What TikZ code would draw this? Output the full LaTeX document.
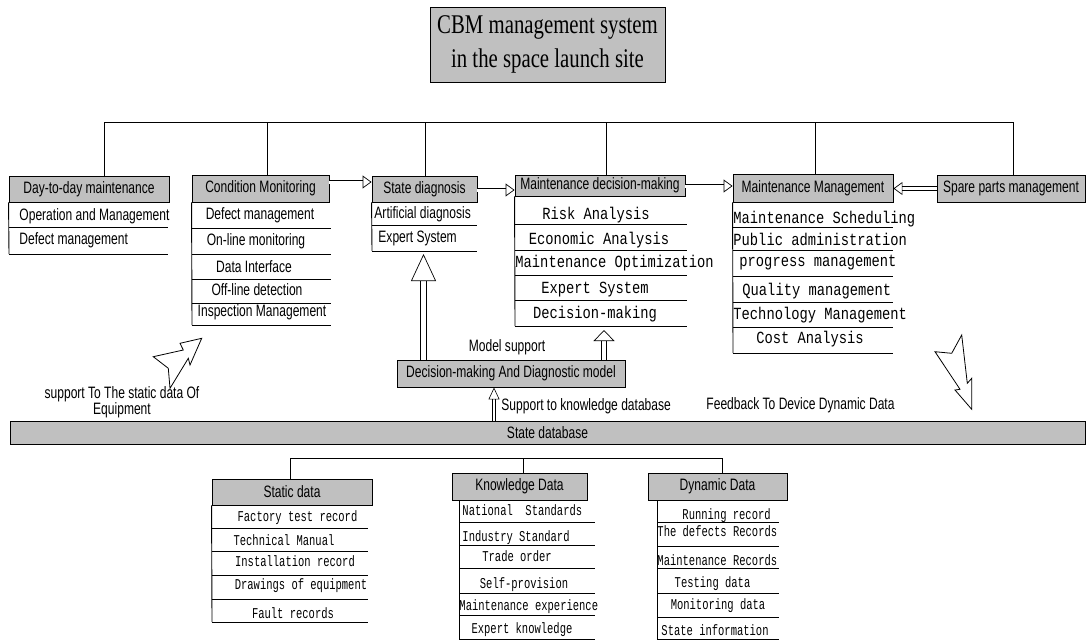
\documentclass[tikz,border=0pt]{standalone}
\usepackage{fontspec}
\usepackage{tikz}
\usetikzlibrary{arrows.meta}
\newfontfamily\sanf[FakeStretch=0.73]{Liberation Sans}
\newfontfamily\monof[FakeStretch=0.81]{Liberation Mono}
\newfontfamily\monos[FakeStretch=0.7]{Liberation Mono}
\newfontfamily\titf[FakeStretch=0.77]{Liberation Serif}
\definecolor{boxgray}{RGB}{192,192,192}

\begin{document}
\begin{tikzpicture}[x=1pt,y=-1pt,line width=0.9pt,
  hd/.style={draw,fill=boxgray,inner sep=0pt,font=\sanf\fontsize{16.5}{18}\selectfont},
  lab/.style={inner sep=0pt,font=\sanf\fontsize{16.5}{18}\selectfont},
  itm/.style={inner sep=0pt,font=\monof\fontsize{17}{18}\selectfont},
  itms/.style={inner sep=0pt,font=\monos\fontsize{15}{16}\selectfont},
  hollow/.style={draw,double,double distance=3pt,line width=0.7pt,-{Triangle[open,length=9pt,width=13pt]}}]
\useasboundingbox (0,0) rectangle (1086,640);

% title
\node[draw,fill=boxgray,minimum width=235,minimum height=75,inner sep=0pt,align=center,
  font=\titf\fontsize{27}{34}\selectfont] (title) at (547.5,44.5) {CBM management system\\in the space launch site};

% top row of headers
\node[hd,minimum width=160,minimum height=26] (dtd) at (89,189) {Day-to-day maintenance};
\node[hd,minimum width=137,minimum height=27] (cm) at (260.5,188.5) {Condition Monitoring};
\node[hd,minimum width=105,minimum height=26] (sd) at (424.5,189) {State diagnosis};
\node[hd,minimum width=170,minimum height=21] (mdm) at (600,185.5) {Maintenance decision-making};
\node[hd,minimum width=160,minimum height=28] (mm) at (813,188) {Maintenance Management};
\node[hd,minimum width=148,minimum height=27] (sp) at (1011,188.5) {Spare parts management};

\coordinate (busL) at (104,122);
\coordinate (busR) at (1013,122);
\draw ([xshift=15pt]dtd.north) -- (busL) -- (busR) -- ([xshift=2pt]sp.north);
\draw ([xshift=6.5pt]cm.north) -- ([xshift=6.5pt]cm.north |- busL);
\draw ([xshift=0.5pt]sd.north) -- ([xshift=0.5pt]sd.north |- busL);
\draw ([xshift=6pt]mdm.north) -- ([xshift=6pt]mdm.north |- busL);
\draw ([xshift=2pt]mm.north) -- ([xshift=2pt]mm.north |- busL);

% Day-to-day maintenance
\draw (dtd.south west) -- (9,254);
\foreach \y in {227,254} \draw (9,\y) -- (168,\y);
\node[lab,anchor=west] (dtd1) at (19,216) {Operation and Management};
\node[lab,anchor=west] (dtd2) at (19,240) {Defect management};

% Condition Monitoring
\draw (cm.south west) -- (192,325);
\foreach \y in {228,254,279,303,325} \draw (192,\y) -- (331,\y);
\node[lab] (cm1) at (260,215.5) {Defect management};
\node[lab] (cm2) at (256,241.5) {On-line monitoring};
\node[lab] (cm3) at (254,266.5) {Data Interface};
\node[lab] (cm4) at (257,290) {Off-line detection};
\node[lab] (cm5) at (262,312) {Inspection Management};

% State diagnosis
\draw (sd.south west) -- (372,251);
\foreach \y in {225,251} \draw (372,\y) -- (477,\y);
\node[lab,anchor=west] (sd1) at (374,214) {Artificial diagnosis};
\node[lab,anchor=west] (sd2) at (378,238) {Expert System};

% Maintenance decision-making
\draw (mdm.south west) -- (515,326);
\foreach \y in {224,250,275,300,326} \draw (515,\y) -- (687,\y);
\node[itm] (mdm1) at (596,215) {Risk Analysis};
\node[itm] (mdm2) at (599,240) {Economic Analysis};
\node[itm,anchor=west] (mdm3) at (515,263) {Maintenance Optimization};
\node[itm] (mdm4) at (595,290) {Expert System};
\node[itm] (mdm5) at (595,314) {Decision-making};

% Maintenance Management
\draw (mm.south west) -- (733,353);
\foreach \y in {227,250,276,302,327,353} \draw (733,\y) -- (893,\y);
\node[itm,anchor=west] (mm1) at (733,219) {Maintenance Scheduling};
\node[itm,anchor=west] (mm2) at (733,239) {Public administration};
\node[itm,anchor=west] (mm3) at (739,263) {progress management};
\node[itm,anchor=west] (mm4) at (742,291) {Quality management};
\node[itm,anchor=west] (mm5) at (733,315) {Technology Management};
\node[itm] (mm6) at (810,339) {Cost Analysis};

% hollow arrows between headers
\draw[hollow] ([yshift=6.5pt]cm.east) -- ([yshift=6.5pt]cm.east -| sd.west);
\draw[hollow] ([yshift=-1pt]sd.east) -- ([yshift=-1pt]sd.east -| mdm.west);
\draw[hollow] ([yshift=-0.5pt]mdm.east) -- ([yshift=-0.5pt]mdm.east -| mm.west);
\draw[hollow] (sp.west) -- (sp.west -| mm.east);

% model
\node[hd,minimum width=228,minimum height=27] (model) at (511,373.5) {Decision-making And Diagnostic model};
\node[lab] (ms) at (507,347) {Model support};
\coordinate (sdbot) at (423.5,254);
\coordinate (mdmbot) at (604,330);
\draw[hollow,double distance=5.5pt,-{Triangle[open,length=27pt,width=25pt]}] (model.north -| sdbot) -- (sdbot);
\draw[hollow,double distance=4.5pt,-{Triangle[open,length=11pt,width=21pt]}] (model.north -| mdmbot) -- (mdmbot);

% state database
\node[hd,minimum width=1075,minimum height=23] (sdb) at (547.5,432.5) {State database};
\coordinate (kb) at (494,421);
\draw[hollow,double distance=2pt,line width=0.6pt,-{Triangle[open,length=12pt,width=11pt]}] (kb) -- (kb |- model.south);
\node[lab,anchor=west] (kbl) at (501,406) {Support to knowledge database};

% big zigzag arrows
\draw[line width=0.8pt] (201.7,338.3) -- (180,343.3) -- (183.3,350) -- (153.3,356.7) -- (168.3,368.3)
  -- (170,388.3) -- (188.3,358.3) -- (190,365) -- cycle;
\node[lab,align=center,font=\sanf\fontsize{16.5}{15}\selectfont] (stl) at (122,402) {support To The static data Of\\Equipment};
\draw[line width=0.8pt] (961.7,335) -- (951.7,353.3) -- (935,351.7) -- (960,389.3) -- (955,390)
  -- (971.7,409.3) -- (971.7,378.3) -- (967.3,383.3) -- cycle;
\node[lab,anchor=west] (fbl) at (706,405) {Feedback To Device Dynamic Data};

% bottom row of headers
\node[hd,minimum width=160,minimum height=26] (sta) at (292,492) {Static data};
\node[hd,minimum width=135,minimum height=27] (kd) at (519.5,486.5) {Knowledge Data};
\node[hd,minimum width=139,minimum height=27] (dd) at (717.5,486.5) {Dynamic Data};
\coordinate (bbL) at (290,458);
\coordinate (bbR) at (722,458);
\draw ([xshift=-2pt]sta.north) -- (bbL) -- (bbR) -- ([xshift=4.5pt]dd.north);
\draw ([xshift=4pt]kd.north) -- ([xshift=4pt]kd.north |- bbL);

% Static data
\draw (sta.south west) -- (212,622);
\foreach \y in {528,551,575,599,622} \draw (212,\y) -- (368,\y);
\node[itms] (sta1) at (297.5,518) {Factory test record};
\node[itms] (sta2) at (284,540) {Technical Manual};
\node[itms] (sta3) at (295,561) {Installation record};
\node[itms] (sta4) at (301,586) {Drawings of equipment};
\node[itms] (sta5) at (293,613) {Fault records};

% Knowledge Data
\draw (459,500) -- (459,639);
\foreach \y in {522,545,568,593,615,639} \draw (459,\y) -- (595,\y);
\node[itms,anchor=west] (kd1) at (462,510) {National~~Standards};
\node[itms,anchor=west] (kd2) at (462,538) {Industry Standard};
\node[itms] (kd3) at (517,556) {Trade order};
\node[itms] (kd4) at (524,585) {Self-provision};
\node[itms,anchor=west] (kd5) at (459,607) {Maintenance experience};
\node[itms] (kd6) at (522,630) {Expert knowledge};

% Dynamic Data
\draw (657,500) -- (657,639);
\foreach \y in {522,546,568,593,617,639} \draw (657,\y) -- (779,\y);
\node[itms,anchor=west] (dd1) at (682,516) {Running record};
\node[itms,anchor=west] (dd2) at (657,531) {The defects Records};
\node[itms,anchor=west] (dd3) at (657,560) {Maintenance Records};
\node[itms] (dd4) at (712.5,584) {Testing data};
\node[itms] (dd5) at (718,606) {Monitoring data};
\node[itms] (dd6) at (715,630) {State information};
\end{tikzpicture}
\end{document}
